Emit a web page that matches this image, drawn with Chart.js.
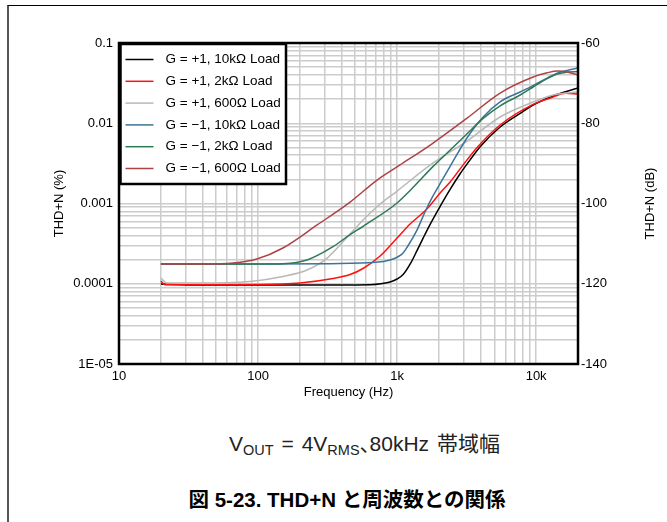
<!DOCTYPE html>
<html lang="ja">
  <head>
    <meta charset="UTF-8" />
    <title>THD+N と周波数との関係</title>
    <script src="https://cdn.jsdelivr.net/npm/chart.js"></script>
    <style>
      body {
        margin: 0;
        width: 667px;
        height: 522px;
        overflow: hidden;
        position: relative;
        background: #fff;
        font-family: "Liberation Sans", Arial, "Noto Sans CJK JP", sans-serif;
      }
      .moldura {
        position: absolute;
        left: 7px;
        top: 5px;
        right: 0;
        bottom: 0;
        border-top: 1px solid #000;
        border-left: 2px solid #555;
      }
      #grafico {
        position: absolute;
        left: 0;
        top: 0;
      }
      .condicao {
        position: absolute;
        left: 0;
        width: 729px;
        top: 432px;
        text-align: center;
        font-size: 21px;
        line-height: 24px;
        word-spacing: 2px;
        color: #222;
      }
      .condicao sub {
        font-size: 14.5px;
        vertical-align: -4px;
        line-height: 0;
      }
      .virgula {
        letter-spacing: -11px;
      }
      .titulo {
        position: absolute;
        left: 0;
        width: 694px;
        top: 488px;
        text-align: center;
        font-size: 20.5px;
        line-height: 24px;
        font-weight: bold;
        color: #000;
      }
    </style>
  </head>
  <body>
    <div class="moldura"></div>
    <canvas id="grafico" width="667" height="410"></canvas>
    <div class="condicao">V<sub>OUT</sub> = 4V<sub>RMS</sub><span class="virgula">、</span>80kHz 帯域幅</div>
    <div class="titulo">図 5-23. THD+N と周波数との関係</div>

    <script>
      // eixos
      const freqTicks = [10, 100, 1000, 10000];
      const freqLabels = ["10", "100", "1k", "10k"];
      const thdTicks = [0.00001, 0.0001, 0.001, 0.01, 0.1];
      const thdLabels = ["1E-05", "0.0001", "0.001", "0.01", "0.1"];
      const dbTicks = [-140, -120, -100, -80, -60];

      const nomes = [
        "G = +1, 10kΩ Load",
        "G = +1, 2kΩ Load",
        "G = +1, 600Ω Load",
        "G = \u22121, 10kΩ Load",
        "G = \u22121, 2kΩ Load",
        "G = \u22121, 600Ω Load",
      ];
      const cores = ["#000000", "#ff1010", "#b8b8b8", "#3f7399", "#2e7a55", "#ad4343"];

      // G = +1, 10k
      const f1 = [20, 38, 200, 640, 890, 1000, 1105, 1240, 1393, 1539, 1728, 2039, 2406, 2840, 3351, 3955, 5508, 7672, 9515, 13254, 20000];
      const v1 = [0.99e-4, 0.965e-4, 0.965e-4, 0.975e-4, 1.05e-4, 1.146e-4, 1.3e-4, 1.75e-4, 2.6e-4, 3.7e-4, 5.5e-4, 9.2e-4, 1.5e-3, 2.35e-3, 3.5e-3, 5.1e-3, 8.98e-3, 0.0133, 0.01688, 0.02185, 0.0275];
      // G = +1, 2k
      const f2 = [20, 21.4, 38, 103, 200, 346, 459, 569, 755, 1000, 1240, 1644, 2039, 2406, 2840, 3763, 5508, 9515, 13254, 16170, 20000];
      const v2 = [1.08e-4, 0.975e-4, 0.975e-4, 0.98e-4, 1.022e-4, 1.163e-4, 1.304e-4, 1.549e-4, 2.22e-4, 3.72e-4, 5.55e-4, 8.6e-4, 1.352e-3, 1.853e-3, 2.7e-3, 5.0e-3, 9.51e-3, 0.0172, 0.0212, 0.0236, 0.0232];
      // G = +1, 600
      const f3 = [20, 22.1, 38, 87.6, 151, 225, 314, 459, 569, 755, 1000, 1816, 3188, 5508, 9515, 13254, 20000];
      const v3 = [1.18e-4, 1.022e-4, 1.02e-4, 1.067e-4, 1.23e-4, 1.483e-4, 2.09e-4, 4.17e-4, 6.23e-4, 9.86e-4, 1.43e-3, 3.2e-3, 6.0e-3, 0.01197, 0.0184, 0.0225, 0.0245];
      // G = -1, 10k
      const f4 = [20, 100, 330, 700, 890, 1000, 1100, 1180, 1393, 1590, 1816, 2107, 2406, 3188, 4157, 5508, 7672, 9515, 12000, 14160, 17000, 20000];
      const v4 = [1.76e-4, 1.76e-4, 1.78e-4, 1.85e-4, 1.98e-4, 2.14e-4, 2.4e-4, 2.85e-4, 4.7e-4, 7.9e-4, 1.25e-3, 1.95e-3, 2.9e-3, 6.6e-3, 0.012, 0.0185, 0.0245, 0.0295, 0.0365, 0.042, 0.0458, 0.0488];
      // G = -1, 2k
      const f5 = [20, 100, 151, 225, 346, 459, 569, 1000, 1240, 1816, 2400, 3188, 4157, 5508, 7672, 9515, 12000, 14160, 17000, 20000];
      const v5 = [1.76e-4, 1.76e-4, 1.78e-4, 1.98e-4, 2.9e-4, 4.1e-4, 5.2e-4, 1.014e-3, 1.45e-3, 2.9e-3, 4.6e-3, 7.4e-3, 0.0115, 0.0165, 0.0225, 0.0283, 0.036, 0.041, 0.0435, 0.044];
      // G = -1, 600
      const f6 = [20, 40, 66, 98, 151, 266, 459, 718, 1051, 1816, 3188, 5508, 9515, 12000, 14160, 17000, 20000];
      const v6 = [1.76e-4, 1.76e-4, 1.81e-4, 2.03e-4, 2.79e-4, 5.4e-4, 1.04e-3, 1.96e-3, 3.02e-3, 5.67e-3, 0.0116, 0.0238, 0.0377, 0.0425, 0.0448, 0.0432, 0.0399];

      const series = [
        [f1, v1],
        [f2, v2],
        [f3, v3],
        [f4, v4],
        [f5, v5],
        [f6, v6],
      ];

      function linhasLog(min, max) {
        const lista = [];
        for (let e = Math.floor(Math.log10(min)); e <= Math.ceil(Math.log10(max)); e++) {
          for (let m = 1; m <= 9; m++) {
            const v = Number((m * Math.pow(10, e)).toPrecision(6));
            if (v >= min * 0.999999 && v <= max * 1.000001) lista.push({ value: v });
          }
        }
        return lista;
      }

      function rotulo(valor, valores, textos) {
        const i = valores.findIndex((t) => Math.abs(valor / t - 1) < 1e-6);
        return i >= 0 ? textos[i] : "";
      }

      const fonte = '"Liberation Sans", Arial, sans-serif';

      const extras = {
        id: "extras",
        afterDraw(chart) {
          const { ctx, chartArea: a } = chart;
          ctx.save();
          ctx.strokeStyle = "#000";
          ctx.lineWidth = 2.5;
          ctx.strokeRect(a.left, a.top, a.right - a.left, a.bottom - a.top);

          // legenda
          const lx = a.left + 1.5;
          const ly = a.top + 1;
          ctx.fillStyle = "#fff";
          ctx.fillRect(lx, ly, 165.5, 140);
          ctx.strokeRect(lx, ly, 165.5, 140);
          ctx.font = "13.5px " + fonte;
          ctx.textBaseline = "middle";
          nomes.forEach((n, i) => {
            const y = ly + 15.5 + i * 21.8;
            ctx.strokeStyle = cores[i];
            ctx.lineWidth = 1.5;
            ctx.beginPath();
            ctx.moveTo(lx + 5, y);
            ctx.lineTo(lx + 33, y);
            ctx.stroke();
            ctx.fillStyle = "#000";
            ctx.fillText(n, lx + 45, y);
          });

          // titulos dos eixos
          ctx.font = "13px " + fonte;
          ctx.fillStyle = "#000";
          ctx.textAlign = "center";
          ctx.fillText("Frequency (Hz)", (a.left + a.right) / 2, 392);
          ctx.translate(59, (a.top + a.bottom) / 2);
          ctx.rotate(-Math.PI / 2);
          ctx.fillText("THD+N (%)", 0, 0);
          ctx.rotate(Math.PI / 2);
          ctx.translate(650 - 59, 0);
          ctx.rotate(-Math.PI / 2);
          ctx.fillText("THD+N (dB)", 0, 0);
          ctx.restore();
        },
      };

      const grafico = new Chart(document.getElementById("grafico"), {
        type: "line",
        data: {
          datasets: series.map((s, i) => ({
            label: nomes[i],
            data: s[0].map((f, j) => ({ x: f, y: s[1][j] })),
            borderColor: cores[i],
            borderWidth: 1.5,
            pointRadius: 0,
            fill: false,
            cubicInterpolationMode: "monotone",
            order: 10 - i,
          })),
        },
        options: {
          responsive: false,
          devicePixelRatio: 1,
          animation: false,
          events: [],
          layout: { padding: { top: 43, left: 0, right: 0, bottom: 0 } },
          plugins: { legend: { display: false }, tooltip: { enabled: false } },
          scales: {
            x: {
              type: "logarithmic",
              min: 10,
              max: 20000,
              afterBuildTicks: (s) => {
                s.ticks = linhasLog(10, 20000);
              },
              afterFit: (s) => {
                s.height = 46;
              },
              border: { display: false },
              grid: { color: "#cccccc", lineWidth: 1.5, drawTicks: false },
              ticks: {
                autoSkip: false,
                maxRotation: 0,
                padding: 5,
                color: "#000",
                font: { size: 13, family: fonte },
                callback: (v) => rotulo(v, freqTicks, freqLabels),
              },
            },
            y: {
              type: "logarithmic",
              position: "left",
              min: 0.00001,
              max: 0.1,
              afterBuildTicks: (s) => {
                s.ticks = linhasLog(0.00001, 0.1);
              },
              afterFit: (s) => {
                s.width = 119;
              },
              border: { display: false },
              grid: { color: "#cccccc", lineWidth: 1.5, drawTicks: false },
              ticks: {
                autoSkip: false,
                padding: 6,
                color: "#000",
                font: { size: 13, family: fonte },
                callback: (v) => rotulo(v, thdTicks, thdLabels),
              },
            },
            y2: {
              type: "linear",
              position: "right",
              min: -140,
              max: -60,
              afterBuildTicks: (s) => {
                s.ticks = dbTicks.map((v) => ({ value: v }));
              },
              afterFit: (s) => {
                s.width = 89;
              },
              border: { display: false },
              grid: { display: false, drawTicks: false },
              ticks: {
                padding: 3,
                color: "#000",
                font: { size: 13, family: fonte },
              },
            },
          },
        },
        plugins: [extras],
      });
    </script>
  </body>
</html>
